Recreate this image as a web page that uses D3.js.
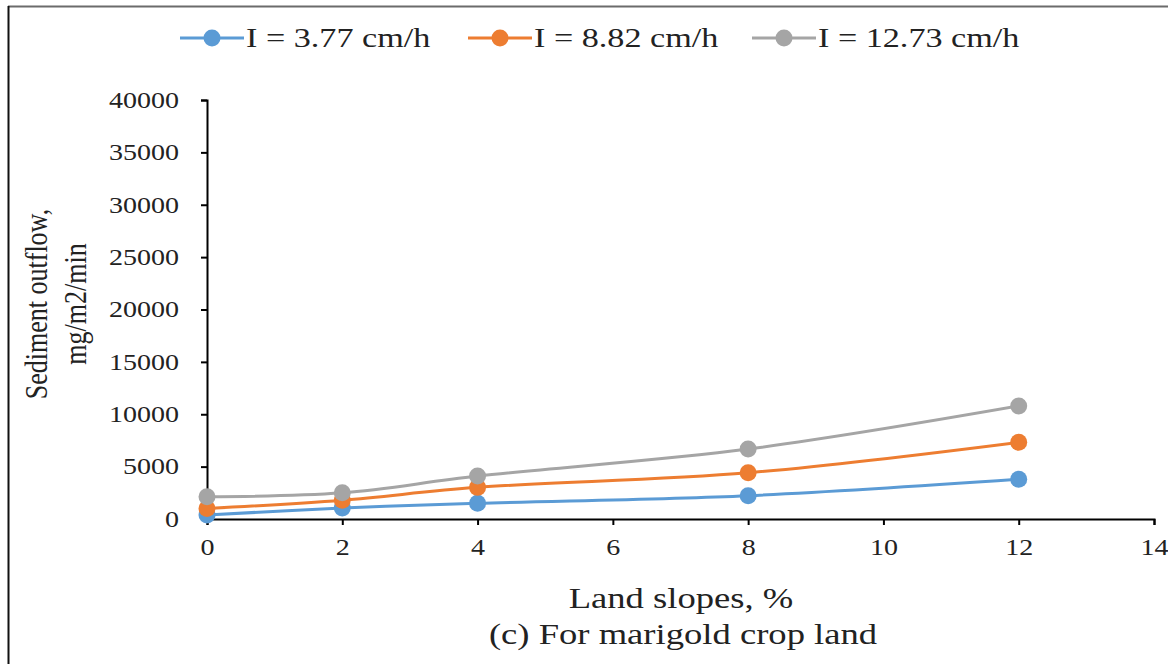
<!DOCTYPE html>
<html>
<head>
<meta charset="utf-8">
<script src="https://cdn.jsdelivr.net/npm/d3@7"></script>
<style>
  html, body { margin: 0; padding: 0; background: #fff; }
  svg { display: block; font-family: "Liberation Serif", "Times New Roman", serif; }
</style>
</head>
<body>
<script>
const slopes = [0, 2, 4, 8, 12]
const seriesNames = ["I = 3.77 cm/h", "I = 8.82 cm/h", "I = 12.73 cm/h"]
const lowIntensity = [380, 1050, 1500, 2230, 3800]
const midIntensity = [1000, 1800, 3020, 4420, 7320]
const highIntensity = [2130, 2500, 4100, 6680, 10790]
const colors = ["#5B9BD5", "#ED7D31", "#A5A5A5"]
const yTicks = [0, 5000, 10000, 15000, 20000, 25000, 30000, 35000, 40000]
const xTicks = [0, 2, 4, 6, 8, 10, 12, 14]

const series = [lowIntensity, midIntensity, highIntensity].map((vals, i) => ({
  name: seriesNames[i], color: colors[i],
  points: slopes.map((s, j) => ({ x: s, y: vals[j] }))
}))

const width = 1168, height = 664
const margin = { top: 100, left: 207 }
const SX = 1.22   // the original picture is a bit stretched sideways
const txt = "#222"

const svg = d3.select("body").append("svg")
  .attr("width", width).attr("height", height)

// outer frame (top + left edge)
svg.append("line").attr("x1", 8).attr("x2", width).attr("y1", 6.5).attr("y2", 6.5)
  .attr("stroke", "#6b6b6b").attr("stroke-width", 2)
svg.append("line").attr("x1", 8.5).attr("x2", 8.5).attr("y1", 6).attr("y2", height)
  .attr("stroke", "#111").attr("stroke-width", 2)

const x = d3.scaleLinear().domain([0, 14]).range([0, 947])
const y = d3.scaleLinear().domain([0, 40000]).range([419, 0])

const g = svg.append("g").attr("transform", `translate(${margin.left},${margin.top})`)

// y axis
const yAxis = g.append("g")
  .call(d3.axisLeft(y).tickValues(yTicks).tickSize(6).tickFormat(d3.format("d")))
yAxis.select(".domain").attr("stroke", "#000").attr("stroke-width", 2)
yAxis.selectAll(".tick line").attr("stroke", "#000").attr("stroke-width", 2)
yAxis.selectAll("text").attr("font-size", 23).attr("fill", txt)
  .attr("font-family", "Liberation Serif, serif")
  .attr("x", -28 / SX).attr("transform", `scale(${SX},1)`)

// x axis
const xAxis = g.append("g").attr("transform", `translate(0,${y(0)})`)
  .call(d3.axisBottom(x).tickValues(xTicks).tickSize(6).tickPadding(14))
xAxis.select(".domain").attr("stroke", "#000").attr("stroke-width", 2)
xAxis.selectAll(".tick line").attr("stroke", "#000").attr("stroke-width", 2)
xAxis.selectAll("text").attr("font-size", 23).attr("fill", txt)
  .attr("font-family", "Liberation Serif, serif")
  .attr("transform", `scale(${SX},1)`)

// lines + markers
const line = d3.line().x(d => x(d.x)).y(d => y(d.y)).curve(d3.curveCatmullRom.alpha(0.5))
series.forEach(s => {
  g.append("path").datum(s.points)
    .attr("d", line).attr("fill", "none")
    .attr("stroke", s.color).attr("stroke-width", 3)
  g.selectAll(null).data(s.points).enter().append("circle")
    .attr("cx", d => x(d.x)).attr("cy", d => y(d.y)).attr("r", 8.5)
    .attr("fill", s.color)
})

// axis titles
function label(cx, cy, size, text) {
  svg.append("text").attr("transform", `translate(${cx},${cy}) scale(${SX},1)`)
    .attr("text-anchor", "middle").attr("font-size", size).attr("fill", txt).text(text)
}
label(681, 608, 30, "Land slopes, %")
label(683, 644, 30, "(c) For marigold crop land")

const yt = svg.append("text").attr("transform", `translate(0,304) scale(${SX},1) rotate(-90)`)
  .attr("text-anchor", "middle").attr("font-size", 26).attr("fill", txt)
yt.append("tspan").attr("x", 0).attr("y", 47 / SX).text("Sediment outflow,")
yt.append("tspan").attr("x", 0).attr("y", 86 / SX).text("mg/m2/min")

// legend
const legendX = [180, 468, 752]
series.forEach((s, i) => {
  const lg = svg.append("g").attr("transform", `translate(${legendX[i]},38)`)
  lg.append("line").attr("x1", 0).attr("x2", 64).attr("y1", 0).attr("y2", 0)
    .attr("stroke", s.color).attr("stroke-width", 3)
  lg.append("circle").attr("cx", 32).attr("cy", 0).attr("r", 8.5).attr("fill", s.color)
  lg.append("text").attr("transform", `translate(66,9) scale(${SX},1)`)
    .attr("font-size", 28).attr("fill", txt).text(s.name)
})
</script>
</body>
</html>
